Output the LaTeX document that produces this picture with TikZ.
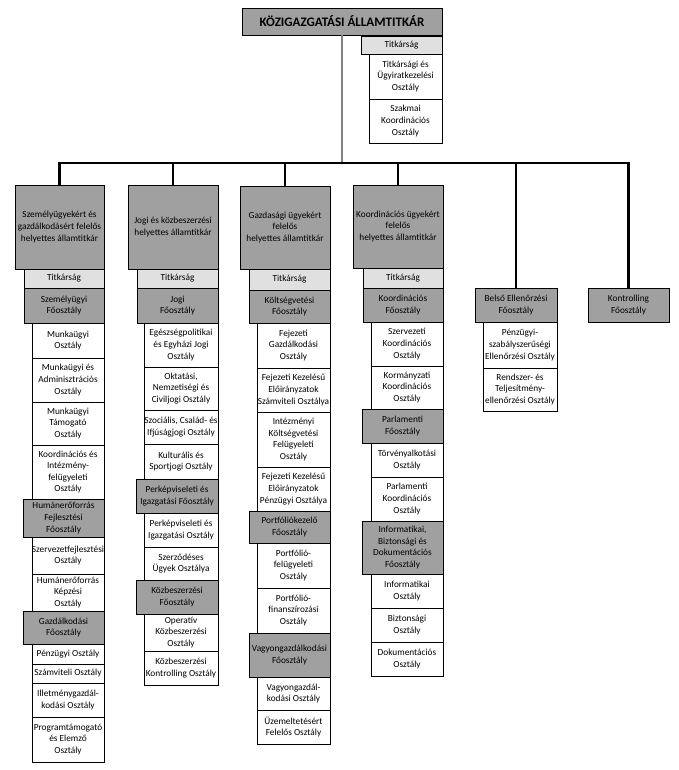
\documentclass[tikz,border=0pt]{standalone}
\usepackage{fontspec}
\setmainfont{Carlito}
\definecolor{midgray}{HTML}{A0A0A0}
\definecolor{lightgray}{HTML}{E0E0E0}
\definecolor{linegray}{HTML}{808080}
\tikzset{
  base/.style={draw=black, line width=0.8pt, inner sep=0pt, align=center,
    font=\fontsize{9.3}{11.6}\selectfont},
  wbox/.style={base, fill=white},
  gbox/.style={base, fill=midgray},
  lbox/.style={base, fill=lightgray},
  tbox/.style={base, fill=midgray, font=\fontsize{13}{15}\selectfont\bfseries},
  conn/.style={draw=black, line width=2.4pt},
  topconn/.style={draw=linegray, line width=2pt},
}
\newcommand{\bx}[7]{%
  \pgfmathsetmacro\bxw{#4-#2}\pgfmathsetmacro\bxh{#5-#3}%
  \node[#6, minimum width=\bxw pt, minimum height=\bxh pt]
    (#1) at ({(#2+#4)/2},{(#3+#5)/2}) {#7};}
\begin{document}
\begin{tikzpicture}[x=1pt,y=-1pt]
\useasboundingbox[fill=white] (0,0) rectangle (678,770);
% top
\bx{top}{242}{8}{442}{35}{tbox}{KÖZIGAZGATÁSI ÁLLAMTITKÁR}
\bx{t0}{361}{36}{442}{54}{lbox}{Titkárság}
\bx{t0a}{369}{54}{442}{99}{wbox}{Titkársági és\\Ügyiratkezelési\\Osztály}
\bx{t0b}{369}{99}{442}{143}{wbox}{Szakmai\\Koordinációs\\Osztály}
% column 1
\bx{c1}{15}{185}{104}{269}{gbox}{Személyügyekért és\\gazdálkodásért felelős\\helyettes államtitkár}
\bx{c1t}{24}{269}{104}{288}{lbox}{Titkárság}
\bx{c1f1}{24}{288}{104}{323}{gbox}{Személyügyi\\Főosztály}
\bx{c1a}{32}{323}{104}{358}{wbox}{Munkaügyi\\Osztály}
\bx{c1b}{32}{358}{104}{402}{wbox}{Munkaügyi és\\Adminisztrációs\\Osztály}
\bx{c1c}{32}{402}{104}{445}{wbox}{Munkaügyi\\Támogató\\Osztály}
\bx{c1d}{32}{445}{104}{499}{wbox}{Koordinációs és\\Intézmény-\\felügyeleti\\Osztály}
\bx{c1f2}{23}{499}{104}{537}{gbox}{Humánerőforrás\\Fejlesztési\\Főosztály}
\bx{c1e}{32}{537}{104}{574}{wbox}{Szervezetfejlesztési\\Osztály}
\bx{c1f}{32}{574}{104}{611}{wbox}{Humánerőforrás\\Képzési\\Osztály}
\bx{c1f3}{23}{611}{104}{644}{gbox}{Gazdálkodási\\Főosztály}
\bx{c1g}{32}{644}{104}{664}{wbox}{Pénzügyi Osztály}
\bx{c1h}{32}{664}{104}{683}{wbox}{Számviteli Osztály}
\bx{c1i}{32}{683}{104}{717}{wbox}{Illetménygazdál-\\kodási Osztály}
\bx{c1j}{32}{717}{104}{762}{wbox}{Programtámogató\\és Elemző\\Osztály}
% column 2
\bx{c2}{128}{185}{218}{269}{gbox}{Jogi és közbeszerzési\\helyettes államtitkár}
\bx{c2t}{137}{269}{218}{288}{lbox}{Titkárság}
\bx{c2f1}{137}{288}{218}{323}{gbox}{Jogi\\Főosztály}
\bx{c2a}{144}{323}{218}{367}{wbox}{Egészségpolitikai\\és Egyházi Jogi\\Osztály}
\bx{c2b}{144}{367}{218}{410}{wbox}{Oktatási,\\Nemzetiségi és\\Civiljogi Osztály}
\bx{c2c}{144}{410}{218}{444}{wbox}{Szociális, Család- és\\Ifjúságjogi Osztály}
\bx{c2d}{144}{444}{218}{479}{wbox}{Kulturális és\\Sportjogi Osztály}
\bx{c2f2}{136}{479}{218}{513}{gbox}{Perképviseleti és\\Igazgatási Főosztály}
\bx{c2e}{144}{513}{218}{547}{wbox}{Perképviseleti és\\Igazgatási Osztály}
\bx{c2f}{144}{547}{218}{580}{wbox}{Szerződéses\\Ügyek Osztálya}
\bx{c2f3}{136}{580}{218}{614}{gbox}{Közbeszerzési\\Főosztály}
\bx{c2g}{144}{614}{218}{651}{wbox}{Operatív\\Közbeszerzési\\Osztály}
\bx{c2h}{144}{651}{218}{685}{wbox}{Közbeszerzési\\Kontrolling Osztály}
% column 3
\bx{c3}{240}{186}{330}{269}{gbox}{Gazdasági ügyekért\\felelős\\helyettes államtitkár}
\bx{c3t}{249}{269}{330}{290}{lbox}{Titkárság}
\bx{c3f1}{249}{290}{330}{323}{gbox}{Költségvetési\\Főosztály}
\bx{c3a}{257}{323}{330}{368}{wbox}{Fejezeti\\Gazdálkodási\\Osztály}
\bx{c3b}{257}{368}{330}{412}{wbox}{Fejezeti Kezelésű\\Előirányzatok\\Számviteli Osztálya}
\bx{c3c}{257}{412}{330}{467}{wbox}{Intézményi\\Költségvetési\\Felügyeleti\\Osztály}
\bx{c3d}{257}{467}{330}{511}{wbox}{Fejezeti Kezelésű\\Előirányzatok\\Pénzügyi Osztálya}
\bx{c3f2}{249}{511}{330}{543}{gbox}{Portfóliókezelő\\Főosztály}
\bx{c3e}{257}{543}{330}{588}{wbox}{Portfólió-\\felügyeleti\\Osztály}
\bx{c3f}{257}{588}{330}{633}{wbox}{Portfólió-\\finanszírozási\\Osztály}
\bx{c3f3}{249}{633}{330}{677}{gbox}{Vagyongazdálkodási\\Főosztály}
\bx{c3g}{257}{677}{330}{710}{wbox}{Vagyongazdál-\\kodási Osztály}
\bx{c3h}{257}{710}{330}{744}{wbox}{Üzemeltetésért\\Felelős Osztály}
% column 4
\bx{c4}{353}{185}{443}{268}{gbox}{Koordinációs ügyekért\\felelős\\helyettes államtitkár}
\bx{c4t}{363}{268}{443}{288}{lbox}{Titkárság}
\bx{c4f1}{363}{288}{443}{322}{gbox}{Koordinációs\\Főosztály}
\bx{c4a}{371}{322}{443}{366}{wbox}{Szervezeti\\Koordinációs\\Osztály}
\bx{c4b}{371}{366}{443}{409}{wbox}{Kormányzati\\Koordinációs\\Osztály}
\bx{c4f2}{362}{409}{443}{443}{gbox}{Parlamenti\\Főosztály}
\bx{c4c}{371}{443}{443}{477}{wbox}{Törvényalkotási\\Osztály}
\bx{c4d}{371}{477}{443}{521}{wbox}{Parlamenti\\Koordinációs\\Osztály}
\bx{c4f3}{362}{521}{443}{574}{gbox}{Informatikai,\\Biztonsági és\\Dokumentációs\\Főosztály}
\bx{c4e}{371}{574}{443}{608}{wbox}{Informatikai\\Osztály}
\bx{c4f}{371}{608}{443}{642}{wbox}{Biztonsági\\Osztály}
\bx{c4g}{371}{642}{443}{676}{wbox}{Dokumentációs\\Osztály}
% column 5
\bx{c5}{475}{288}{557}{322}{gbox}{Belső Ellenőrzési\\Főosztály}
\bx{c5a}{483}{322}{557}{368}{wbox}{Pénzügyi-\\szabályszerűségi\\Ellenőrzési Osztály}
\bx{c5b}{483}{368}{557}{411}{wbox}{Rendszer- és\\Teljesítmény-\\ellenőrzési Osztály}
% column 6
\bx{c6}{588}{288}{669}{322}{gbox}{Kontrolling\\Főosztály}
% connectors
\coordinate (bus) at (342,163);
\draw[topconn] (top.south) -- (top.south |- bus);
\coordinate (busL) at (c1.north |- bus);
\coordinate (busR) at (c6.north |- bus);
\draw[conn, line cap=rect] (busL) -- (busR);
\foreach \n in {c1,c2,c3,c4,c5,c6}
  \draw[conn] (\n.north |- bus) -- (\n.north);
\end{tikzpicture}
\end{document}
